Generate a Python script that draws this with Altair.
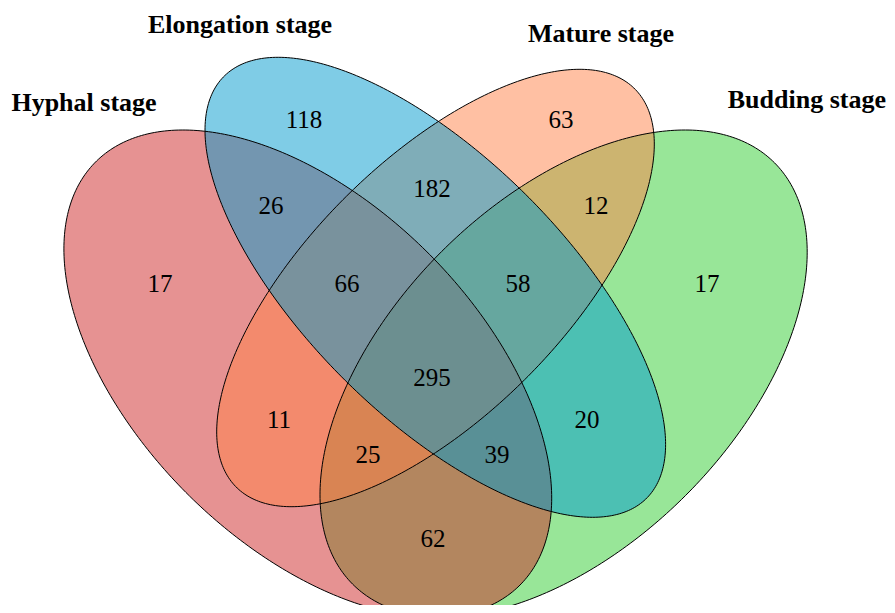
import numpy as np
import pandas as pd
import altair as alt

# ---- data -------------------------------------------------------------
set_names = ["Hyphal stage", "Elongation stage", "Mature stage", "Budding stage"]
set_colors = ["#CD2626", "#009ACD", "#FF8247", "#32CD32"]

# ellipse geometry in picture units: centre, half-width, half-height, xy coupling
ell_cx = [307.8, 435.3, 435.5, 563.6]
ell_cy = [373.5, 287.3, 288.0, 373.5]
ell_w = [243.9, 230.3, 218.8, 243.6]
ell_h = [243.5, 230.0, 218.7, 243.5]
ell_c = [30390.0, 36180.0, -31500.0, -29560.0]
draw_order = [3, 0, 2, 1]

region_counts = [17, 118, 63, 17, 26, 182, 12, 66, 58, 295, 11, 20, 25, 39, 62]
region_x = [160, 304, 561, 707, 271, 432, 596, 347, 518, 432, 279, 587, 368, 497, 433]
region_y = [292, 128, 128, 292, 214, 197, 214, 292, 292, 386, 428, 428, 463, 463, 547]

label_x = [84, 240, 601, 886]
label_y = [111, 33, 42, 108]
label_align = ["center", "center", "center", "right"]

# ---- build outlines ---------------------------------------------------
t = np.linspace(0, 2 * np.pi, 361)
rows = []
for k in range(4):
    p = ell_w[k]
    r = ell_c[k] / ell_w[k]
    s = np.sqrt(ell_h[k] ** 2 - r ** 2)
    xs = ell_cx[k] + p * np.cos(t)
    ys = ell_cy[k] + r * np.cos(t) + s * np.sin(t)
    for i, (xv, yv) in enumerate(zip(xs, ys)):
        rows.append({"set": set_names[k], "i": i, "X": float(xv), "Y": float(yv)})
ell_df = pd.DataFrame(rows)

reg_df = pd.DataFrame({"n": region_counts, "X": region_x, "Y": region_y})
lab_df = pd.DataFrame({"name": set_names, "X": label_x, "Y": label_y, "al": label_align})

W, H = 879, 597
xs_ = alt.Scale(domain=[8, 8 + W], nice=False, zero=False)
ys_ = alt.Scale(domain=[8, 8 + H], nice=False, zero=False, reverse=True)
X = alt.X("X:Q", scale=xs_, axis=None)
Y = alt.Y("Y:Q", scale=ys_, axis=None)

base = alt.Chart(ell_df)
layers = []
for k in draw_order:
    layers.append(
        base.transform_filter(alt.datum.set == set_names[k])
        .mark_line(fill=set_colors[k], fillOpacity=0.5, strokeWidth=0, clip=True)
        .encode(x=X, y=Y, order="i:Q")
    )
for k in draw_order:
    layers.append(
        base.transform_filter(alt.datum.set == set_names[k])
        .mark_line(color="black", strokeWidth=1, clip=True)
        .encode(x=X, y=Y, order="i:Q")
    )

nums = alt.Chart(reg_df).mark_text(
    font="Liberation Serif", fontSize=25, color="black", align="center", baseline="alphabetic"
).encode(x=X, y=Y, text="n:Q")

lab_layers = []
for al in ["center", "right"]:
    lab_layers.append(
        alt.Chart(lab_df).transform_filter(alt.datum.al == al).mark_text(
            font="Liberation Serif", fontSize=26, fontWeight="bold", color="black",
            align=al, baseline="alphabetic"
        ).encode(x=X, y=Y, text="name:N")
    )

chart = alt.layer(*layers, nums, *lab_layers).properties(
    width=W, height=H, padding=0, autosize=alt.AutoSizeParams(type="none")
).configure_view(stroke=None)

chart.save("out.html", embed_options={"renderer": "svg", "actions": False})
